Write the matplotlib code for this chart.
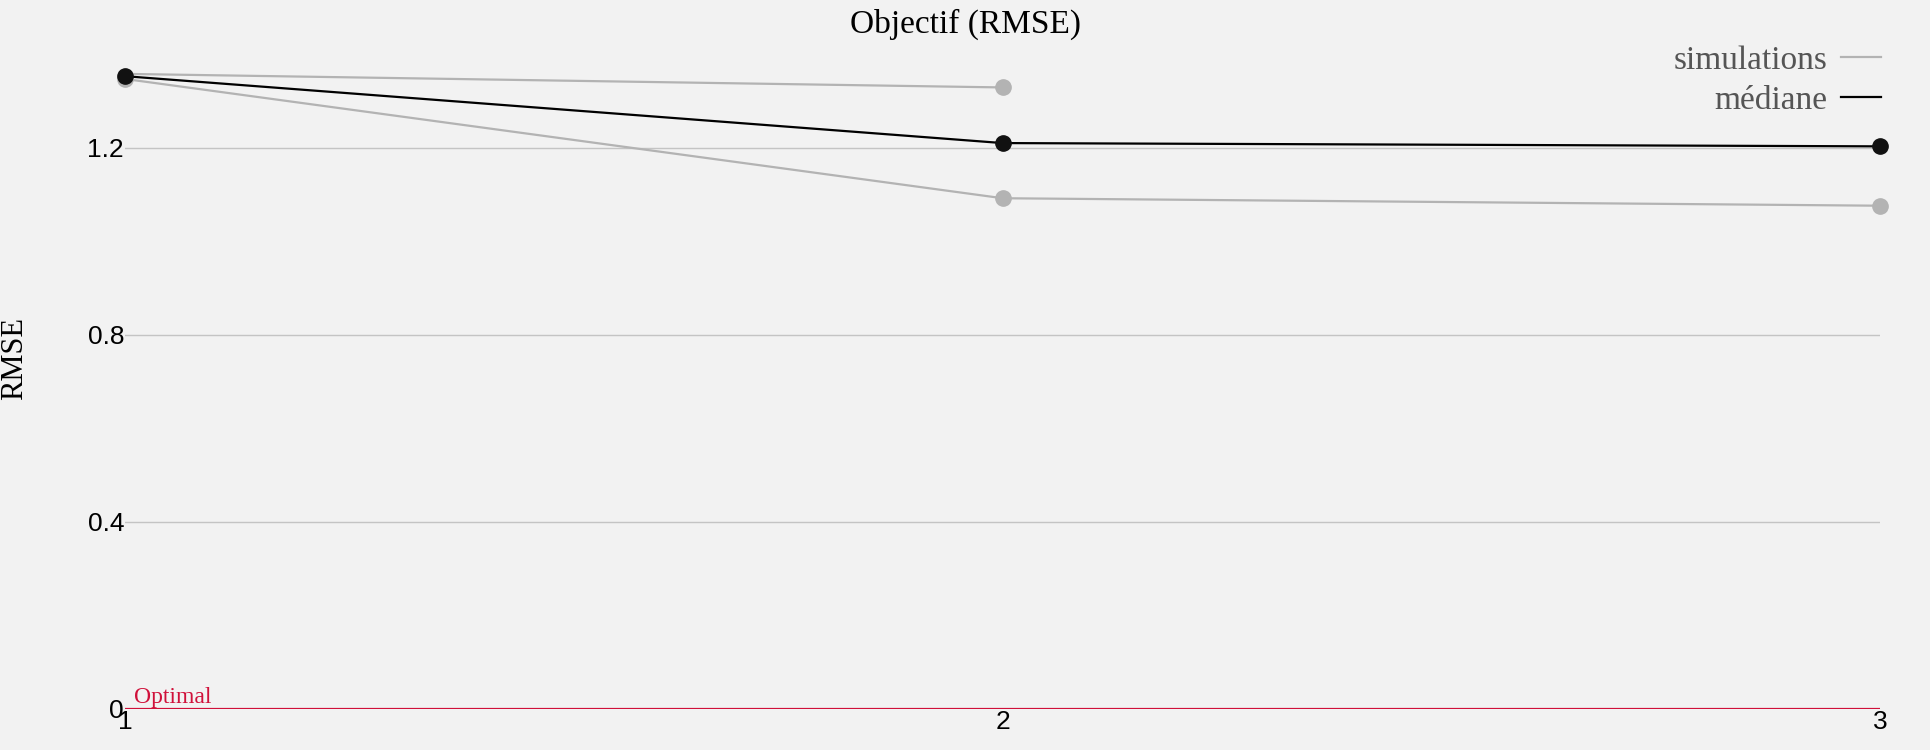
import matplotlib
matplotlib.use("Agg")
import matplotlib.pyplot as plt

iterations = [1, 2, 3]
sim_a_x = [1, 2]
sim_a = [1.358, 1.329]
sim_b_x = [1, 2, 3]
sim_b = [1.347, 1.092, 1.076]
median = [1.353, 1.210, 1.203]
yticks = [0, 0.4, 0.8, 1.2]
yticklabels = ['0', '0.4', '0.8', '1.2']

bg = '#f2f2f2'
grey = '#b3b3b3'
fig = plt.figure(figsize=(19.3, 7.5), dpi=100, facecolor=bg)
ax = fig.add_axes([0.065, 0.055, 0.909, 0.935], facecolor=bg)

ax.plot(sim_a_x, sim_a, color=grey, lw=1.6, label='simulations')
ax.plot(sim_a_x[-1:], sim_a[-1:], 'o', color=grey, ms=11, clip_on=False)
ax.plot(sim_b_x, sim_b, color=grey, lw=1.6)
ax.plot(sim_b_x, sim_b, 'o', color=grey, ms=11, clip_on=False)
ax.plot(iterations, median, color='black', lw=1.6, label='médiane')
ax.plot(iterations, median, 'o', color='#111111', ms=11, clip_on=False)

ax.axhline(0, color='#d0103a', lw=1.6)
ax.text(1.01, 0.012, 'Optimal', color='#d0103a', fontsize=17, family='Liberation Serif')

ax.set_xlim(1, 3)
ax.set_ylim(0, 1.5)
ax.set_xticks(iterations)
ax.set_yticks(yticks)
ax.set_yticklabels(yticklabels)
ax.grid(axis='y', color='#c4c4c4', lw=1)
ax.set_axisbelow(True)
for s in ax.spines.values():
    s.set_visible(False)
ax.tick_params(length=0, labelsize=19, pad=1)
for lab in ax.get_xticklabels() + ax.get_yticklabels():
    lab.set_family('Liberation Sans')

ax.set_ylabel('RMSE', fontsize=22, family='Liberation Serif', labelpad=42)
fig.text(0.5, 0.968, 'Objectif (RMSE)', ha='center', va='center', fontsize=24, family='Liberation Serif')

leg = ax.legend(loc='upper right', bbox_to_anchor=(1.012, 0.975), frameon=False, markerfirst=False,
                prop={'family': 'Liberation Serif', 'size': 24}, handlelength=1.2, handletextpad=0.4,
                labelspacing=0.3, borderaxespad=0.2)
for t in leg.get_texts():
    t.set_color('#555555')

fig.savefig('out.png', facecolor=bg)
